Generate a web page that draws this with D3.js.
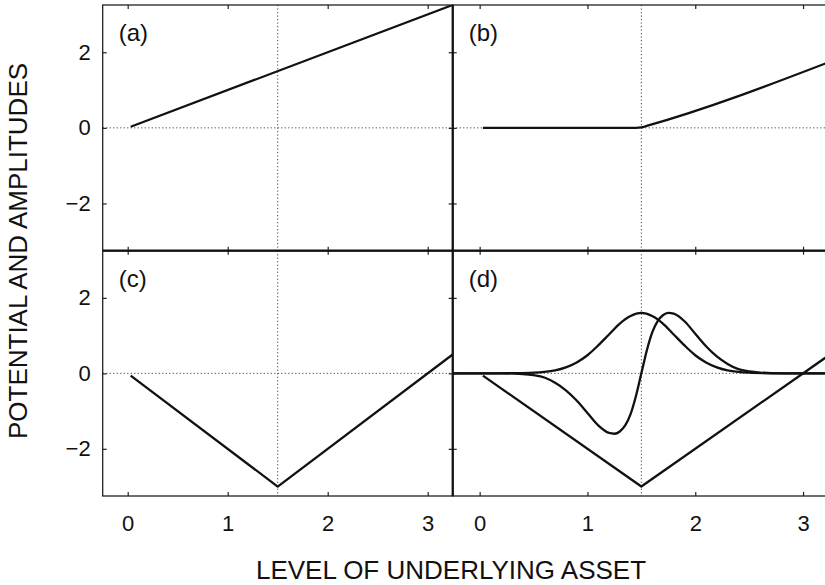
<!DOCTYPE html>
<html>
<head>
<meta charset="utf-8">
<script src="https://cdn.jsdelivr.net/npm/d3@7"></script>
<style>
    body { margin: 0; background: #fff; }
    svg { display: block; font-family: 'Liberation Sans', Arial, Helvetica, sans-serif; }
    .tick text { font-size: 22px; fill: #111; }
    .tick line { stroke: #222; stroke-width: 1.2; }
</style>
</head>
<body>
<div id="chart"></div>
<script>
///////////// DATA
var xTicks = [0, 1, 2, 3];
var yTicks = [-2, 0, 2];
var panelLabels = ['(a)', '(b)', '(c)', '(d)'];
var strike = 1.5;

// (a) linear payoff
var linearX = [0.03, 3.25];
var linearY = [0.03, 3.25];

// (b) call payoff
var callX = [0.03, 1.45, 1.5, 1.55, 3.25];
var callY = [0, 0, 0.01, 0.05, 1.75];

// (c) and (d) V-shaped potential
var vX = [0.03, 1.5, 3.25];
var vY = [-0.06, -3, 0.5];

// (d) amplitudes
var bumpX = [-0.25, 0.1, 0.3, 0.5, 0.6, 0.7, 0.8, 0.9, 1.0, 1.1, 1.2, 1.3, 1.4, 1.5,
    1.6, 1.7, 1.8, 1.9, 2.0, 2.1, 2.2, 2.3, 2.4, 2.5, 2.7, 2.9, 3.25];
var bumpY = [0, 0, 0.005, 0.02, 0.04, 0.08, 0.16, 0.29, 0.48, 0.74, 1.03, 1.32, 1.52, 1.6,
    1.52, 1.32, 1.03, 0.74, 0.48, 0.29, 0.16, 0.08, 0.04, 0.02, 0.005, 0, 0];

var waveX = [-0.25, 0.2, 0.4, 0.5, 0.6, 0.7, 0.8, 0.9, 1.0, 1.1, 1.2, 1.25, 1.3, 1.35, 1.4, 1.45,
    1.5, 1.55, 1.6, 1.65, 1.7, 1.75, 1.8, 1.9, 2.0, 2.1, 2.2, 2.3, 2.4, 2.5, 2.6, 2.8, 3.25];
var waveY = [0, 0, -0.02, -0.05, -0.11, -0.25, -0.45, -0.72, -1.05, -1.38, -1.58, -1.6, -1.54, -1.38, -1.08, -0.6,
    0, 0.6, 1.08, 1.38, 1.54, 1.6, 1.58, 1.38, 1.05, 0.72, 0.45, 0.25, 0.11, 0.05, 0.02, 0, 0];

function series(xs, ys, smooth) {
    var pts = xs.map(function(x, i) { return [x, ys[i]]; });
    pts.smooth = smooth;
    return pts;
}

var panels = [
    { label: panelLabels[0], col: 0, row: 0, curves: [series(linearX, linearY, false)] },
    { label: panelLabels[1], col: 1, row: 0, curves: [series(callX, callY, true)] },
    { label: panelLabels[2], col: 0, row: 1, curves: [series(vX, vY, false)] },
    { label: panelLabels[3], col: 1, row: 1, curves: [series(vX, vY, false), series(bumpX, bumpY, true), series(waveX, waveY, true)] }
];

///////////// CHART
var fullwidth = 825;
var fullheight = 585;
var colRanges = [[102.7, 452.7], [452.7, 830]];
var rowRanges = [[5, 250.7], [250.7, 496]];

var svg = d3.select('#chart')
    .append('svg')
    .attr('width', fullwidth)
    .attr('height', fullheight);

panels.forEach(function(p, i) {
    var xr = colRanges[p.col];
    var yr = rowRanges[p.row];
    var x = d3.scaleLinear().domain([-0.25, 3.25]).range(xr);
    var y = d3.scaleLinear().domain([-3.25, 3.25]).range([yr[1], yr[0]]);

    var g = svg.append('g').attr('class', 'panel');

    g.append('clipPath')
        .attr('id', 'clip' + i)
        .append('rect')
        .attr('x', xr[0]).attr('y', yr[0])
        .attr('width', xr[1] - xr[0]).attr('height', yr[1] - yr[0]);

    // dotted reference lines
    g.append('line')
        .attr('x1', xr[0]).attr('x2', xr[1])
        .attr('y1', y(0)).attr('y2', y(0))
        .attr('stroke', '#444').attr('stroke-width', 1)
        .attr('stroke-dasharray', '1.2,2.3');
    g.append('line')
        .attr('x1', x(strike)).attr('x2', x(strike))
        .attr('y1', yr[0]).attr('y2', yr[1])
        .attr('stroke', '#444').attr('stroke-width', 1)
        .attr('stroke-dasharray', '1.2,2.3');

    var smoothLine = d3.line()
        .x(function(d) { return x(d[0]); })
        .y(function(d) { return y(d[1]); })
        .curve(d3.curveMonotoneX);
    var straightLine = d3.line()
        .x(function(d) { return x(d[0]); })
        .y(function(d) { return y(d[1]); });

    g.append('g')
        .attr('clip-path', 'url(#clip' + i + ')')
        .selectAll('path')
        .data(p.curves)
        .enter()
        .append('path')
        .attr('d', function(d) { return d.smooth ? smoothLine(d) : straightLine(d); })
        .attr('fill', 'none')
        .attr('stroke', '#111')
        .attr('stroke-width', 2.3)
        .attr('stroke-linejoin', 'round');

    // ticks on all four sides, labels only on the outer ones
    var left = d3.axisLeft(y).tickValues(yTicks).tickSize(-4).tickPadding(12)
        .tickFormat(p.col === 0 ? function(d) { return d < 0 ? '\u2212' + Math.abs(d) : d; } : '');
    var right = d3.axisRight(y).tickValues(yTicks).tickSize(-4).tickFormat('');
    var bottom = d3.axisBottom(x).tickValues(xTicks).tickSize(-4).tickPadding(19)
        .tickFormat(p.row === 1 ? d3.format('d') : '');
    var top = d3.axisTop(x).tickValues(xTicks).tickSize(-4).tickFormat('');

    g.append('g').attr('transform', 'translate(' + xr[0] + ',0)').call(left);
    g.append('g').attr('transform', 'translate(' + xr[1] + ',0)').call(right);
    g.append('g').attr('transform', 'translate(0,' + yr[1] + ')').call(bottom);
    g.append('g').attr('transform', 'translate(0,' + yr[0] + ')').call(top);

    g.selectAll('.domain').remove();

    g.append('rect')
        .attr('x', xr[0]).attr('y', yr[0])
        .attr('width', xr[1] - xr[0]).attr('height', yr[1] - yr[0])
        .attr('fill', 'none')
        .attr('stroke', '#222')
        .attr('stroke-width', 1.3);

    g.append('text')
        .attr('x', xr[0] + 16)
        .attr('y', yr[0] + 36)
        .attr('font-size', 24)
        .attr('fill', '#111')
        .text(p.label);
});

// heavier dividing lines between panels
svg.append('line')
    .attr('x1', colRanges[1][0]).attr('x2', colRanges[1][0])
    .attr('y1', rowRanges[0][0]).attr('y2', rowRanges[1][1])
    .attr('stroke', '#111').attr('stroke-width', 2.2);
svg.append('line')
    .attr('x1', colRanges[0][0]).attr('x2', fullwidth)
    .attr('y1', rowRanges[1][0]).attr('y2', rowRanges[1][0])
    .attr('stroke', '#111').attr('stroke-width', 2.2);

// axis titles
svg.append('text')
    .attr('transform', 'translate(27,' + 251 + ') rotate(-90)')
    .attr('text-anchor', 'middle')
    .attr('font-size', 26)
    .attr('fill', '#111')
    .text('POTENTIAL AND AMPLITUDES');

svg.append('text')
    .attr('x', 451)
    .attr('y', 579)
    .attr('text-anchor', 'middle')
    .attr('font-size', 26)
    .attr('fill', '#111')
    .text('LEVEL OF UNDERLYING ASSET');
</script>
</body>
</html>
